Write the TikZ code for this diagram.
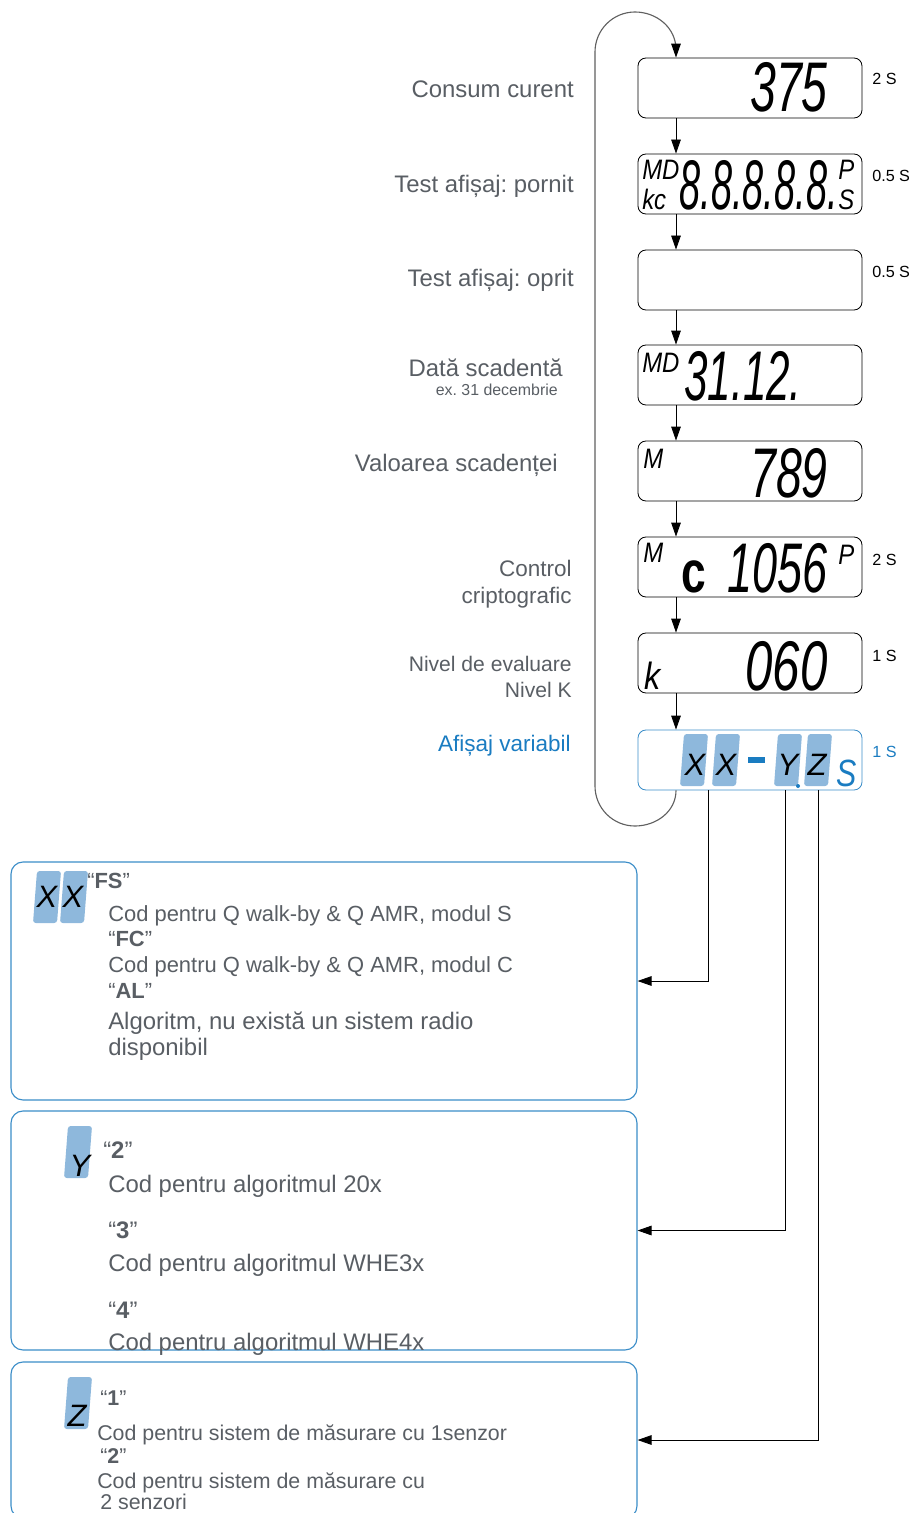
\documentclass[tikz,border=0pt]{standalone}
\usepackage{fontspec}
\setmainfont{Liberation Sans}
\usepackage{graphicx}
\usetikzlibrary{positioning, arrows.meta, calc}
\definecolor{txtgrey}{HTML}{595E64}
\definecolor{varblue}{HTML}{1A7CC1}
\definecolor{boxblue}{HTML}{3B8DC8}
\definecolor{segfill}{HTML}{8EB8DC}
\definecolor{loopgrey}{HTML}{606060}
\frenchspacing
\newcommand\fsz[1]{\fontsize{#1}{#1}\selectfont}
\newcommand\lcd[2][0.7]{\scalebox{#1}[1]{\fsz{50}\itshape #2}}
\newcommand\lcdsm[2][20]{\scalebox{0.85}[1]{\fsz{#1}\itshape #2}}

\begin{document}
\begin{tikzpicture}[x=0.25mm, y=-0.25mm,
 disp/.style={draw=black, line width=0.6pt, rounded corners=2mm, minimum width=56mm, minimum height=15mm, inner sep=0pt},
 infobox/.style={draw=boxblue, line width=0.8pt, rounded corners=3mm, minimum width=156.5mm, inner sep=0pt},
 lbl/.style={anchor=base east, inner sep=0pt, text=txtgrey, font=\fsz{17}},
 tim/.style={anchor=base west, inner sep=0pt, font=\fsz{11.5}},
 desc/.style={anchor=base west, inner sep=0pt, text=txtgrey, font=\fsz{15.6}},
 lcdtxt/.style={inner sep=0pt},
 segtxt/.style={inner sep=0pt, font=\fsz{22}\itshape},
 arr/.style={-{Triangle[length=3.5mm,width=2.4mm]}, line width=0.6pt},
 looparr/.style={-{Triangle[length=3.5mm,width=2.4mm,color=black]}, line width=0.8pt, draw=loopgrey},
 seg/.pic={\fill[segfill, rounded corners=2pt] (-14,26) -- (10,26) -- (14,-26) -- (-10,-26) -- cycle;}]
\useasboundingbox (0,0) rectangle (910,1513);
\clip (0,0) rectangle (910,1513);

% displays
\node[disp] (d1) at (750,88) {};
\node[disp] (d2) at (750,184) {};
\node[disp] (d3) at (750,280) {};
\node[disp] (d4) at (750,375) {};
\node[disp] (d5) at (750,471) {};
\node[disp] (d6) at (750,567) {};
\node[disp] (d7) at (750,663) {};
\node[disp, draw=boxblue] (d8) at (750,760) {};

% display contents
\node[lcdtxt, anchor=base east] (d1val) at (828,112) {\lcd[0.66]{375}};
\node[lcdtxt, anchor=base west] (d2md) at (642,180) {\lcdsm{MD}};
\node[lcdtxt, anchor=base west] (d2kc) at (642,209) {\lcdsm{kc}};
\node[lcdtxt, anchor=base east] (d2val) at (838,209) {\lcd[0.54]{8.8.8.8.8.}};
\node[lcdtxt, anchor=base west] (d2p) at (838,180) {\lcdsm{P}};
\node[lcdtxt, anchor=base west] (d2s) at (838,209) {\lcdsm{S}};
\node[lcdtxt, anchor=base west] (d4md) at (642,372) {\lcdsm{MD}};
\node[lcdtxt, anchor=base east] (d4val) at (802,400) {\lcd[0.6]{31.12.}};
\node[lcdtxt, anchor=base west] (d5m) at (643,468) {\lcdsm{M}};
\node[lcdtxt, anchor=base east] (d5val) at (828,497) {\lcd[0.66]{789}};
\node[lcdtxt, anchor=base west] (d6m) at (643,562) {\lcdsm{M}};
\node[lcdtxt, anchor=base west] (d6c) at (681,592) {\scalebox{0.75}[1]{\fsz{42}\bfseries c}};
\node[lcdtxt, anchor=base east] (d6val) at (828,592) {\lcd[0.64]{1056}};
\node[lcdtxt, anchor=base west] (d6p) at (838,564) {\lcdsm{P}};
\node[lcdtxt, anchor=base west] (d7k) at (644,689) {\lcdsm[27]{k}};
\node[lcdtxt, anchor=base east] (d7val) at (828,690) {\lcd[0.7]{060}};

% variable display
\pic at (694,760) {seg};
\pic at (726,760) {seg};
\pic at (788,760) {seg};
\pic at (818,760) {seg};
\node[segtxt] (d8x1) at (695,765) {X};
\node[segtxt] (d8x2) at (726,765) {X};
\node[segtxt] (d8y) at (788,765) {Y};
\node[segtxt] (d8z) at (817,765) {Z};
\fill[varblue] (748,757) rectangle (765,763);
\fill[varblue] (798,786) circle (2);
\node[lcdtxt, anchor=base west, text=varblue] (d8s) at (836,786) {\scalebox{0.8}[1]{\fsz{27}\itshape S}};

% labels left
\node[lbl] (l1) at (574,98) {Consum curent};
\node[lbl] (l2) at (574,192) {Test afișaj: pornit};
\node[lbl] (l3) at (574,286) {Test afișaj: oprit};
\node[lbl] (l4) at (563,376) {Dată scadentă};
\node[lbl, font=\fsz{11.3}] (l4b) at (558,395) {ex. 31 decembrie};
\node[lbl] (l5) at (558,471) {Valoarea scadenței};
\node[lbl, font=\fsz{16}] (l6a) at (572,576) {Control};
\node[lbl, font=\fsz{16}] (l6b) at (572,603) {criptografic};
\node[lbl, font=\fsz{15}] (l7a) at (572,671) {Nivel de evaluare};
\node[lbl, font=\fsz{15}] (l7b) at (572,697) {Nivel K};
\node[lbl, font=\fsz{16}, text=varblue] (l8) at (571,751) {Afișaj variabil};

% times
\node[tim] (t1) at (872,85) {2 S};
\node[tim] (t2) at (872,181) {0.5 S};
\node[tim] (t3) at (872,277) {0.5 S};
\node[tim] (t6) at (872,565) {2 S};
\node[tim] (t7) at (872,661) {1 S};
\node[tim, text=varblue] (t8) at (872,757) {1 S};

% sequence
\foreach \a/\b in {d1/d2,d2/d3,d3/d4,d4/d5,d5/d6,d6/d7,d7/d8}
  {\draw[arr] ($(\a.south)+(-74,0)$) -- ($(\b.north)+(-74,0)$);}

\coordinate (loopin) at ($(d8.south)+(-74,0)$);
\coordinate (loopout) at ($(d1.north)+(-74,0)$);
\draw[looparr] (loopin) to[out=-90,in=0] (635,826) to[out=180,in=-90] (595,786)
  -- (595,52) to[out=90,in=180] (635,12) to[out=0,in=90] ($(loopout)+(0,-8)$) -- (loopout);

% code boxes
\node[infobox, minimum height=59.5mm] (b1) at (324,981) {};
\node[infobox, minimum height=59.75mm] (b2) at (324,1230.5) {};
\node[infobox, minimum height=39mm] (b3) at (324,1440) {};

\coordinate (tapx) at ($(d8.south)+(-42,0)$);
\coordinate (tapy) at ($(d8.south)+(35,0)$);
\coordinate (tapz) at ($(d8.south)+(68,0)$);
\draw[arr] (tapx) |- (b1.east);
\draw[arr] (tapy) |- (b2.east);
\draw[arr] (tapz) |- (b3.east);

% box 1
\pic at (47,897) {seg};
\pic at (74,897) {seg};
\node[segtxt] (b1x1) at (47,897) {X};
\node[segtxt] (b1x2) at (73,897) {X};
\node[desc] (fs) at (87,888) {“\textbf{FS}”};
\node[desc] (fsd) at (108,921) {Cod pentru Q walk-by \& Q AMR, modul S};
\node[desc] (fc) at (108,946) {“\textbf{FC}”};
\node[desc] (fcd) at (108,972) {Cod pentru Q walk-by \& Q AMR, modul C};
\node[desc] (al) at (108,998) {“\textbf{AL}”};
\node[desc, font=\fsz{17}] (ald) at (108,1029) {Algoritm, nu există un sistem radio};
\node[desc, font=\fsz{17}] (ald2) at (108,1055) {disponibil};

% box 2
\pic at (78,1152) {seg};
\node[segtxt] (b2y) at (80,1166) {Y};
\node[desc, font=\fsz{17}] (y2) at (103,1158) {“\textbf{2}”};
\node[desc, font=\fsz{17}] (y2d) at (108,1192) {Cod pentru algoritmul 20x};
\node[desc, font=\fsz{17}] (y3) at (108,1238) {“\textbf{3}”};
\node[desc, font=\fsz{17}] (y3d) at (108,1271) {Cod pentru algoritmul WHE3x};
\node[desc, font=\fsz{17}] (y4) at (108,1318) {“\textbf{4}”};
\node[desc, font=\fsz{17}] (y4d) at (108,1350) {Cod pentru algoritmul WHE4x};

% box 3
\pic at (78,1403) {seg};
\node[segtxt] (b3z) at (77,1416) {Z};
\node[desc, font=\fsz{15.2}] (z1) at (100,1405) {“\textbf{1}”};
\node[desc, font=\fsz{15.2}] (z1d) at (97,1440) {Cod pentru sistem de măsurare cu 1senzor};
\node[desc, font=\fsz{15.2}] (z2) at (100,1463) {“\textbf{2}”};
\node[desc, font=\fsz{15.2}] (z2d) at (97,1488) {Cod pentru sistem de măsurare cu};
\node[desc, font=\fsz{15.2}] (z2d2) at (100,1509) {2 senzori};
\end{tikzpicture}
\end{document}
